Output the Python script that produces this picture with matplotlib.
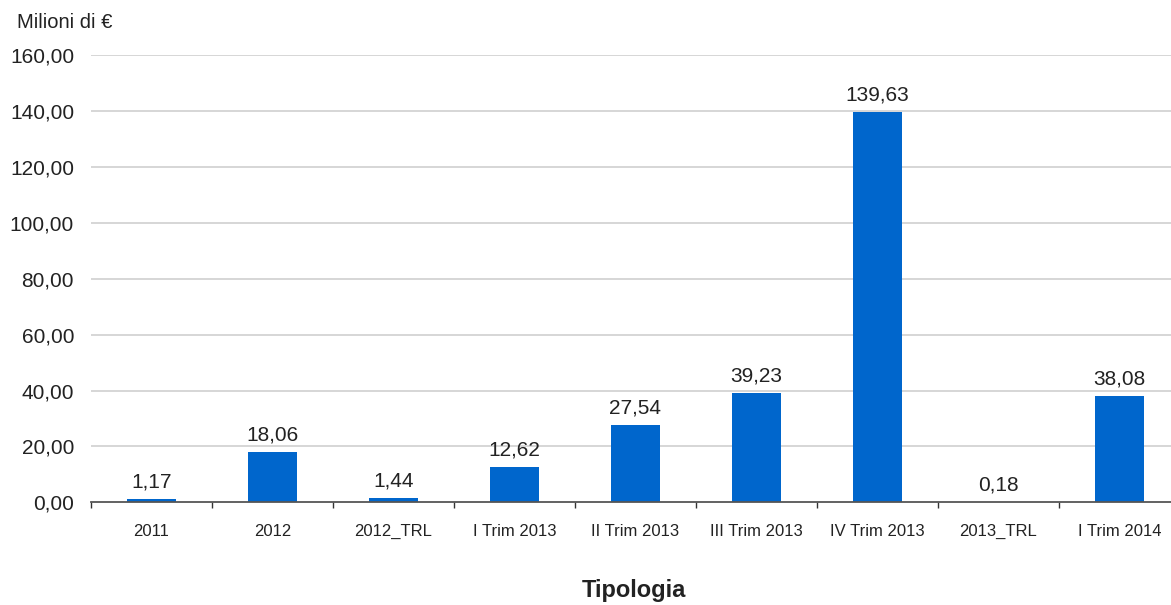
import matplotlib
matplotlib.use("Agg")
import matplotlib.pyplot as plt
from matplotlib.ticker import FixedLocator, NullFormatter

categories = ["2011", "2012", "2012_TRL", "I Trim 2013", "II Trim 2013",
              "III Trim 2013", "IV Trim 2013", "2013_TRL", "I Trim 2014"]
values = [1.17, 18.06, 1.44, 12.62, 27.54, 39.23, 139.63, 0.18, 38.08]
y_ticks = [0, 20, 40, 60, 80, 100, 120, 140, 160]

def it_fmt(v):
    return f"{v:.2f}".replace(".", ",")

plt.rcParams["font.family"] = ["Liberation Sans", "DejaVu Sans"]

W, H = 1171, 605
fig = plt.figure(figsize=(W / 100, H / 100), dpi=100)
left, right, bottom, top = 91, 1180, 605 - 502.3, 605 - 55.3
ax = fig.add_axes([left / W, bottom / H, (right - left) / W, (top - bottom) / H])

n = len(categories)
x = list(range(n))
ax.bar(x, values, width=0.405, color="#0066CC", zorder=3)

for xi, v in zip(x, values):
    ax.annotate(it_fmt(v), (xi, v), xytext=(0, 5.5), textcoords="offset points",
                ha="center", va="bottom", fontsize=15, color="#222222", zorder=4)

ax.set_xlim(-0.5, n - 0.5)
ax.set_ylim(0, 160)

ax.set_yticks(y_ticks)
ax.set_yticklabels([it_fmt(t) for t in y_ticks], fontsize=15, color="#222222")
ax.tick_params(axis="y", length=0, pad=12.2)
for t in y_ticks[1:]:
    ax.axhline(t, color="#D0D0D0", linewidth=1.2, zorder=1)

ax.xaxis.set_major_locator(FixedLocator([i - 0.5 for i in range(n + 1)]))
ax.xaxis.set_major_formatter(NullFormatter())
ax.xaxis.set_minor_locator(FixedLocator(x))
ax.set_xticklabels(categories, minor=True, fontsize=12, color="#222222")
ax.tick_params(axis="x", which="major", length=4.5, width=1, color="#333333", direction="out")
ax.tick_params(axis="x", which="minor", length=0, pad=24.2)
for lbl in ax.get_xticklabels(minor=True):
    lbl.set_verticalalignment("baseline")

for s in ("left", "right", "top"):
    ax.spines[s].set_visible(False)
ax.spines["bottom"].set_color("#555555")
ax.spines["bottom"].set_linewidth(1.3)
ax.spines["bottom"].set_zorder(5)

fig.text(634 / W, 1 - 591 / H, "Tipologia", ha="center", va="center",
         fontsize=17, fontweight="bold", color="#222222")
fig.text(17 / W, 1 - 22 / H, "Milioni di €", ha="left", va="center",
         fontsize=14.5, color="#222222")

fig.savefig("out.png", dpi=100)
